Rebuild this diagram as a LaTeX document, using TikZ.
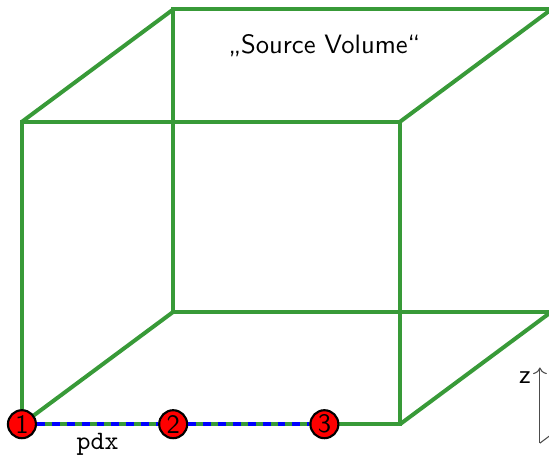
\documentclass[tikz,border=0pt]{standalone}
\usepackage{fontspec}
\usetikzlibrary{arrows.meta,calc,positioning}
\definecolor{cubegreen}{RGB}{56,154,56}
\tikzset{
  edge/.style     = {line width=1.5pt, cubegreen},
  probe/.style    = {circle, draw=black, thick, fill=red, inner sep=0pt,
                     minimum size=3.7mm},
  pitch/.style    = {line width=1.5pt, blue, dash pattern=on 3pt off 2.6pt},
  axisline/.style = {gray!60!black, thin},
}

\begin{document}
\begin{tikzpicture}[x=0.5cm,y=0.5cm,font=\sffamily]
  \useasboundingbox (-0.58,-1.14) rectangle (13.94,11.22);
  % cube corners
  \coordinate (A) at (0,0);
  \coordinate (B) at (10,0);
  \coordinate (C) at (10,8);
  \coordinate (D) at (0,8);
  \coordinate (E) at (4,2.97);
  \coordinate (F) at (14,2.97);
  \coordinate (G) at (14,10.97);
  \coordinate (H) at (4,10.97);
  \draw[edge] (E) -- (F) -- (G) -- (H) -- cycle;
  \draw[edge] (A) -- (E) (B) -- (F) (C) -- (G) (D) -- (H);
  \draw[edge] (A) -- (B) -- (C) -- (D) -- cycle;
  \node (title) at (8,10) {„Source Volume“};
  % probe points
  \node[probe] (p1) at (0,0) {1};
  \node[probe] (p2) at (4,0) {2};
  \node[probe] (p3) at (8,0) {3};
  \draw[pitch] (p1) -- (p2);
  \draw[pitch] (p2) -- (p3);
  \node[font=\ttfamily,below=0mm of $(p1)!0.5!(p2)$] (pdx) {pdx};
  % axes
  \coordinate (O) at (13.7,-0.5);
  \coordinate (ztip) at (13.7,1.5);
  \draw[axisline,-{To}] (O) -- (ztip);
  \draw[axisline] (O) -- ++(4,3);
  \node[anchor=north east,inner sep=1.3pt,xshift=-2pt] (zlab) at (ztip) {z};
\end{tikzpicture}
\end{document}
